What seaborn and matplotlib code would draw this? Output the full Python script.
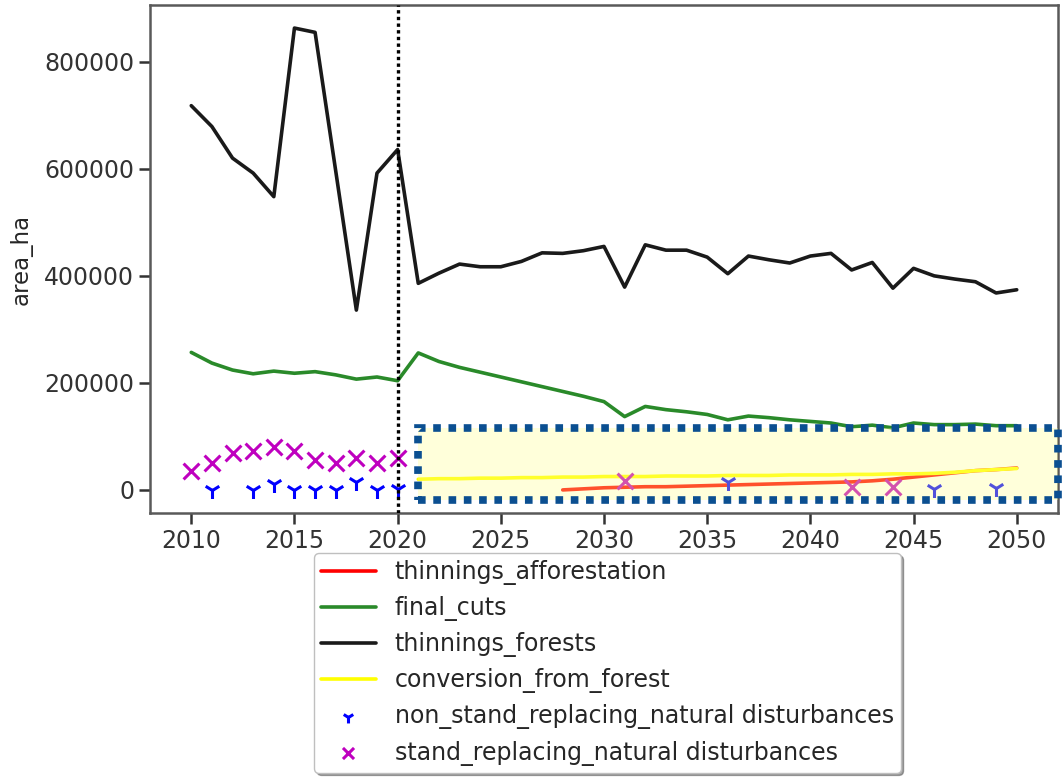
import numpy as np
import pandas as pd
import matplotlib
matplotlib.use("Agg")
import matplotlib.pyplot as plt
import matplotlib.patches as mpatches
import seaborn as sns

years = list(range(2010, 2051))

thinnings_forests = [718, 679, 620, 592, 548, 863, 855, 596, 336, 592, 636,
                     386, 405, 422, 417, 417, 427, 443, 442, 447, 455,
                     379, 458, 448, 448, 435, 404, 437, 430, 424, 437,
                     442, 411, 425, 377, 414, 400, 394, 389, 368, 374]

final_cuts = [257, 237, 224, 217, 222, 218, 221, 215, 207, 211, 204,
              256, 240, 229, 220, 211, 202, 193, 184, 175, 165,
              137, 156, 150, 146, 141, 131, 138, 135, 131, 128,
              125, 118, 121, 116, 125, 122, 122, 123, 120, 120]

nan = np.nan
conversion_from_forest = [nan] * 11 + [20, 21, 21, 22, 22, 23, 23, 24, 24, 25,
                                       25, 25, 26, 26, 26, 27, 27, 27, 28, 28,
                                       28, 29, 29, 30, 30, 31, 33, 36, 38, 40]

thinnings_afforestation = [nan] * 18 + [0, 2, 4, 5, 6, 6, 7, 8, 9, 10, 11, 12, 13,
                                        14, 15, 17, 20, 24, 28, 32, 36, 38, 41]

nsr_years = [2011, 2013, 2014, 2015, 2016, 2017, 2018, 2019, 2020, 2036, 2046, 2049]
nsr_values = [0, 0, 11, 0, 0, 0, 15, 0, 2, 14, 2, 3]

sr_years = [2010, 2011, 2012, 2013, 2014, 2015, 2016, 2017, 2018, 2019, 2020, 2031, 2042, 2044]
sr_values = [36, 51, 69, 72, 80, 72, 55, 50, 60, 51, 60, 17, 6, 6]

line_series = [
    ("thinnings_afforestation", thinnings_afforestation, "red"),
    ("final_cuts", final_cuts, "#2a8a2a"),
    ("thinnings_forests", thinnings_forests, "#1a1a1a"),
    ("conversion_from_forest", conversion_from_forest, "yellow"),
]

sns.set_style("ticks")
plt.rcParams["font.family"] = ["DejaVu Sans"]
plt.rcParams["font.size"] = 16

fig = plt.figure(figsize=(10.63, 7.78), dpi=100)
ax = fig.add_axes([0.1411, 0.3406, 0.8542, 0.653])

for name, vals, col in line_series:
    df = pd.DataFrame({"year": years, "area_ha": np.array(vals, dtype=float) * 1000})
    sns.lineplot(data=df, x="year", y="area_ha", color=col, linewidth=2.6,
                 label=name, ax=ax)

sns.scatterplot(x=nsr_years, y=np.array(nsr_values) * 1000, marker="1", color="blue",
                s=150, linewidth=2.2, label="non_stand_replacing_natural disturbances",
                ax=ax, zorder=3)
sns.scatterplot(x=sr_years, y=np.array(sr_values) * 1000, marker="x", color="m",
                s=130, linewidth=2.2, label="stand_replacing_natural disturbances",
                ax=ax, zorder=3)

ax.axvline(2020, color="black", linestyle=(0, (1, 1)), linewidth=2.4, zorder=4)

ax.set_xlabel("")
ax.set_ylabel("area_ha", fontsize=16.5, labelpad=8)
ax.set_xticks([2010, 2015, 2020, 2025, 2030, 2035, 2040, 2045, 2050])
ax.set_yticks([0, 200000, 400000, 600000, 800000])
ax.tick_params(labelsize=17, length=8, width=1.8, colors=".2")
for sp in ax.spines.values():
    sp.set_linewidth(1.8)
    sp.set_color(".35")

# highlighted projection area
x0, x1 = 2021, ax.get_xlim()[1]
y0, y1 = -18500, 116000
ax.add_patch(mpatches.Rectangle((x0, y0), x1 - x0, y1 - y0, facecolor=(1, 1, 0.55),
                                alpha=0.32, edgecolor="none", zorder=6, clip_on=False))
ax.add_patch(mpatches.Rectangle((x0, y0), x1 - x0, y1 - y0, facecolor="none",
                                edgecolor="#0b4f91", linewidth=5.5,
                                linestyle=(0, (1, 1)), zorder=7, clip_on=False))

ax.legend(loc="upper center", bbox_to_anchor=(0.5715, 0.2892),
          bbox_transform=fig.transFigure, borderaxespad=0, fontsize=17,
          labelspacing=0.47, shadow=True, markerscale=0.7,
          handlelength=2.3, framealpha=1, edgecolor="0.75", borderpad=0.3)

fig.savefig("out.png", dpi=100)
